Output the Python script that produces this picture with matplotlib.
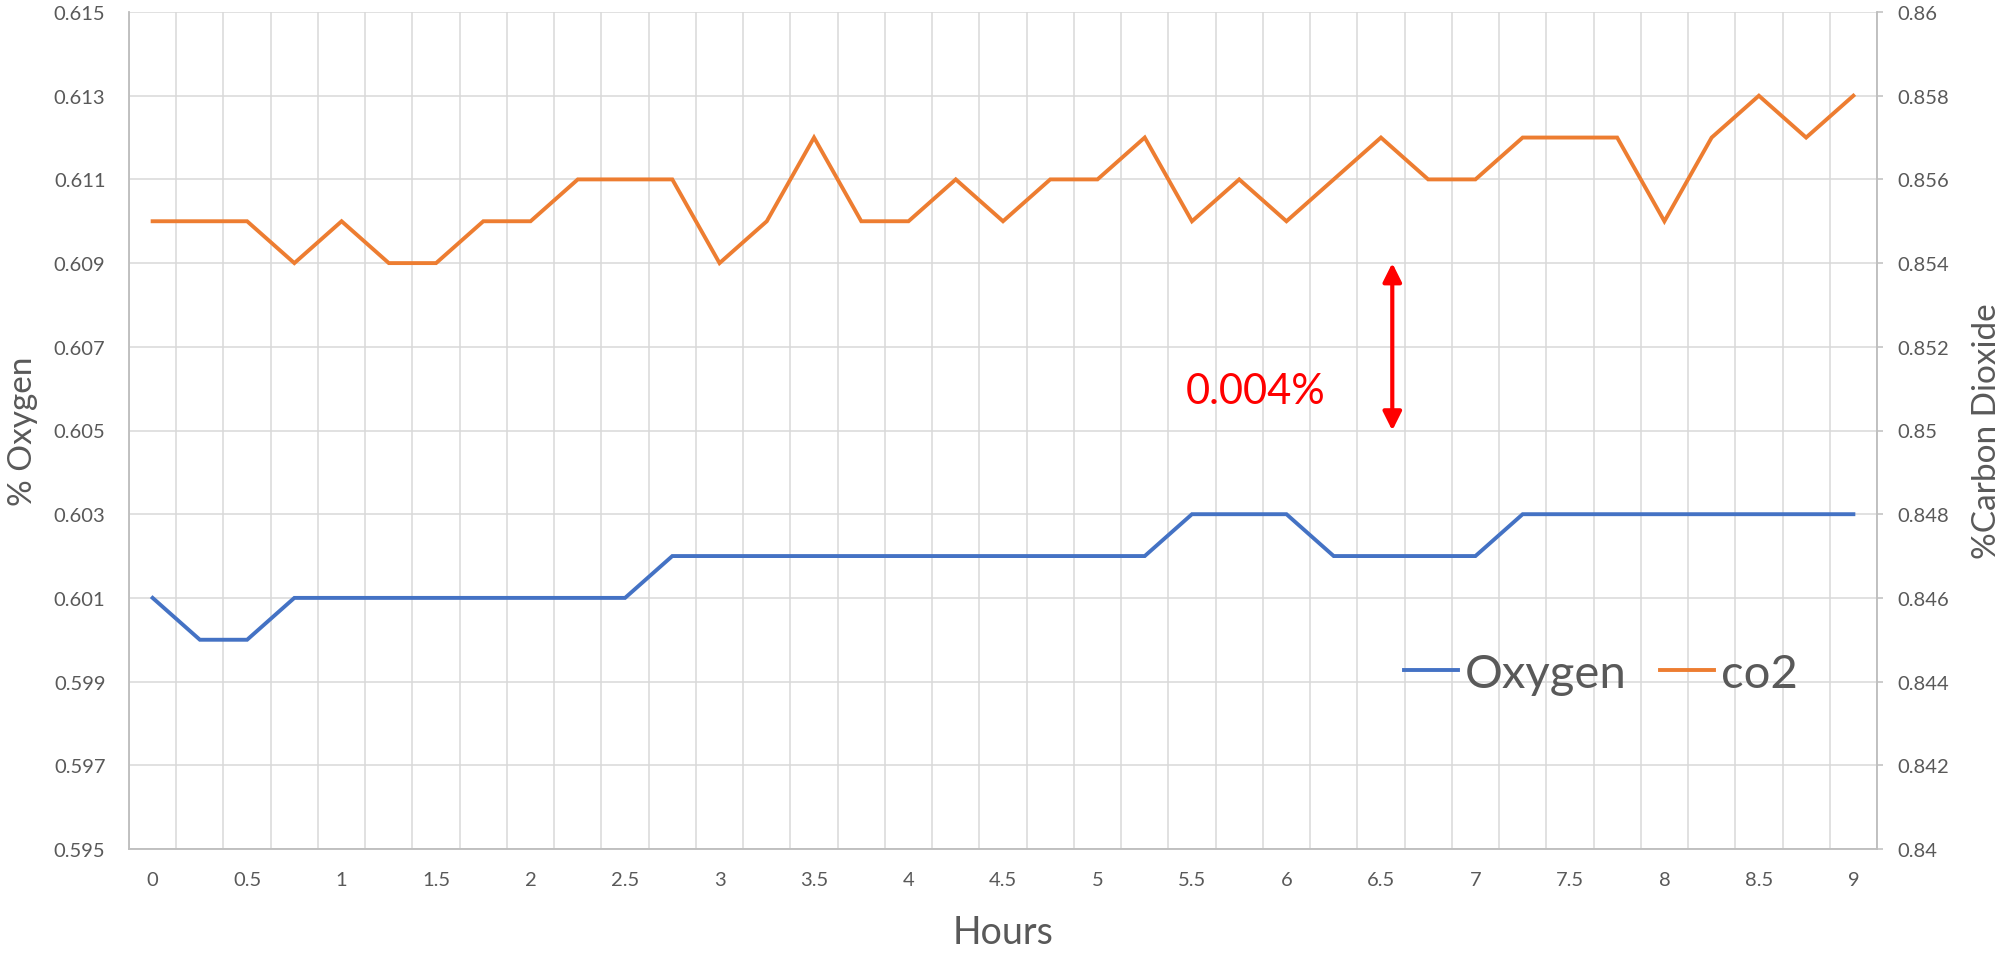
import numpy as np
import matplotlib.pyplot as plt

plt.rcParams['font.family'] = ['Lato', 'DejaVu Sans']

hours = [0, 0.25, 0.5, 0.75, 1, 1.25, 1.5, 1.75, 2, 2.25, 2.5, 2.75, 3, 3.25, 3.5, 3.75,
         4, 4.25, 4.5, 4.75, 5, 5.25, 5.5, 5.75, 6, 6.25, 6.5, 6.75, 7, 7.25, 7.5, 7.75,
         8, 8.25, 8.5, 8.75, 9]
oxygen = [0.601, 0.600, 0.600, 0.601, 0.601, 0.601, 0.601, 0.601, 0.601, 0.601, 0.601,
          0.602, 0.602, 0.602, 0.602, 0.602, 0.602, 0.602, 0.602, 0.602, 0.602, 0.602,
          0.603, 0.603, 0.603, 0.602, 0.602, 0.602, 0.602, 0.603, 0.603, 0.603, 0.603,
          0.603, 0.603, 0.603, 0.603]
co2 = [0.855, 0.855, 0.855, 0.854, 0.855, 0.854, 0.854, 0.855, 0.855, 0.856, 0.856,
       0.856, 0.854, 0.855, 0.857, 0.855, 0.855, 0.856, 0.855, 0.856, 0.856, 0.857,
       0.855, 0.856, 0.855, 0.856, 0.857, 0.856, 0.856, 0.857, 0.857, 0.857, 0.855,
       0.857, 0.858, 0.857, 0.858]

# gap marker between the two series
gap_hour = 6.5
gap_top = 0.609
gap_bottom = 0.605
gap_label = '0.004%'

BLUE = '#4472C4'
ORANGE = '#ED7D31'
GRID = '#d9d9d9'
AXIS = '#bfbfbf'
TEXT = '#595959'

x = np.arange(len(hours))

fig = plt.figure(figsize=(20.06, 9.54), dpi=100)
ax = fig.add_axes([129 / 2006, 104 / 954, 1748 / 2006, 837 / 954])
ax2 = ax.twinx()

ax.plot(x, oxygen, color=BLUE, lw=2.8, solid_joinstyle='miter', label='Oxygen')
ax2.plot(x, co2, color=ORANGE, lw=2.8, solid_joinstyle='miter', label='co2')

ax.set_xlim(-0.5, len(hours) - 0.5)
ax.set_ylim(0.595, 0.615)
ax2.set_ylim(0.84, 0.86)

ax.set_yticks(np.arange(0.595, 0.6151, 0.002))
ax.set_yticklabels(['%.3f' % v for v in np.arange(0.595, 0.6151, 0.002)])
ax2.set_yticks(np.arange(0.84, 0.8601, 0.002))
ax2.set_yticklabels(['%g' % round(v, 3) for v in np.arange(0.84, 0.8601, 0.002)])

# labels every half hour, gridlines between every category
ax.set_xticks(x[::2])
ax.set_xticklabels(['%g' % h for h in hours[::2]])
ax.set_xticks(np.arange(-0.5, len(hours), 1), minor=True)
ax.grid(True, which='minor', axis='x', color=GRID, lw=1.1)
ax.grid(True, which='major', axis='y', color=GRID, lw=1.1)
ax.set_axisbelow(True)

ax.tick_params(axis='x', which='both', length=0, pad=16, labelsize=14.5, labelcolor=TEXT)
ax.tick_params(axis='y', length=0, pad=17, labelsize=14.5, labelcolor=TEXT)
ax2.tick_params(axis='y', length=4.5, width=1.1, color=AXIS, pad=10, labelsize=14.5,
                labelcolor=TEXT)

for a in (ax, ax2):
    a.spines['top'].set_visible(False)
    for s in ('left', 'bottom', 'right'):
        a.spines[s].set_color(AXIS)
        a.spines[s].set_linewidth(1.1)

fig.text(23 / 2006, 1 - 431 / 954, '% Oxygen', rotation=90, ha='center', va='center',
         fontsize=24, color=TEXT)
fig.text(1987 / 2006, 1 - 431 / 954, '%Carbon Dioxide', rotation=90, ha='center',
         va='center', fontsize=24, color=TEXT)
fig.text(1003 / 2006, 1 - 933 / 954, 'Hours', ha='center', va='center', fontsize=27,
         color=TEXT)

gx = hours.index(gap_hour) + 0.24
ax.annotate('', xy=(gx, gap_top), xytext=(gx, gap_bottom),
            arrowprops=dict(arrowstyle='<|-|>', color='red', lw=3, mutation_scale=28,
                            shrinkA=0, shrinkB=0))
ax.text(gx - 2.9, (gap_top + gap_bottom) / 2 - 0.00106, gap_label, color='red',
        fontsize=30, ha='center', va='center')

h1, l1 = ax.get_legend_handles_labels()
h2, l2 = ax2.get_legend_handles_labels()
leg = fig.legend(h1 + h2, l1 + l2, loc='center left', ncol=2, frameon=False,
                 bbox_to_anchor=(1404 / 2006, 1 - 675 / 954), borderpad=0,
                 borderaxespad=0, fontsize=34, handlelength=1.14, handletextpad=0.15,
                 columnspacing=0.7)
for t in leg.get_texts():
    t.set_color(TEXT)

fig.savefig('out.png', dpi=100)
